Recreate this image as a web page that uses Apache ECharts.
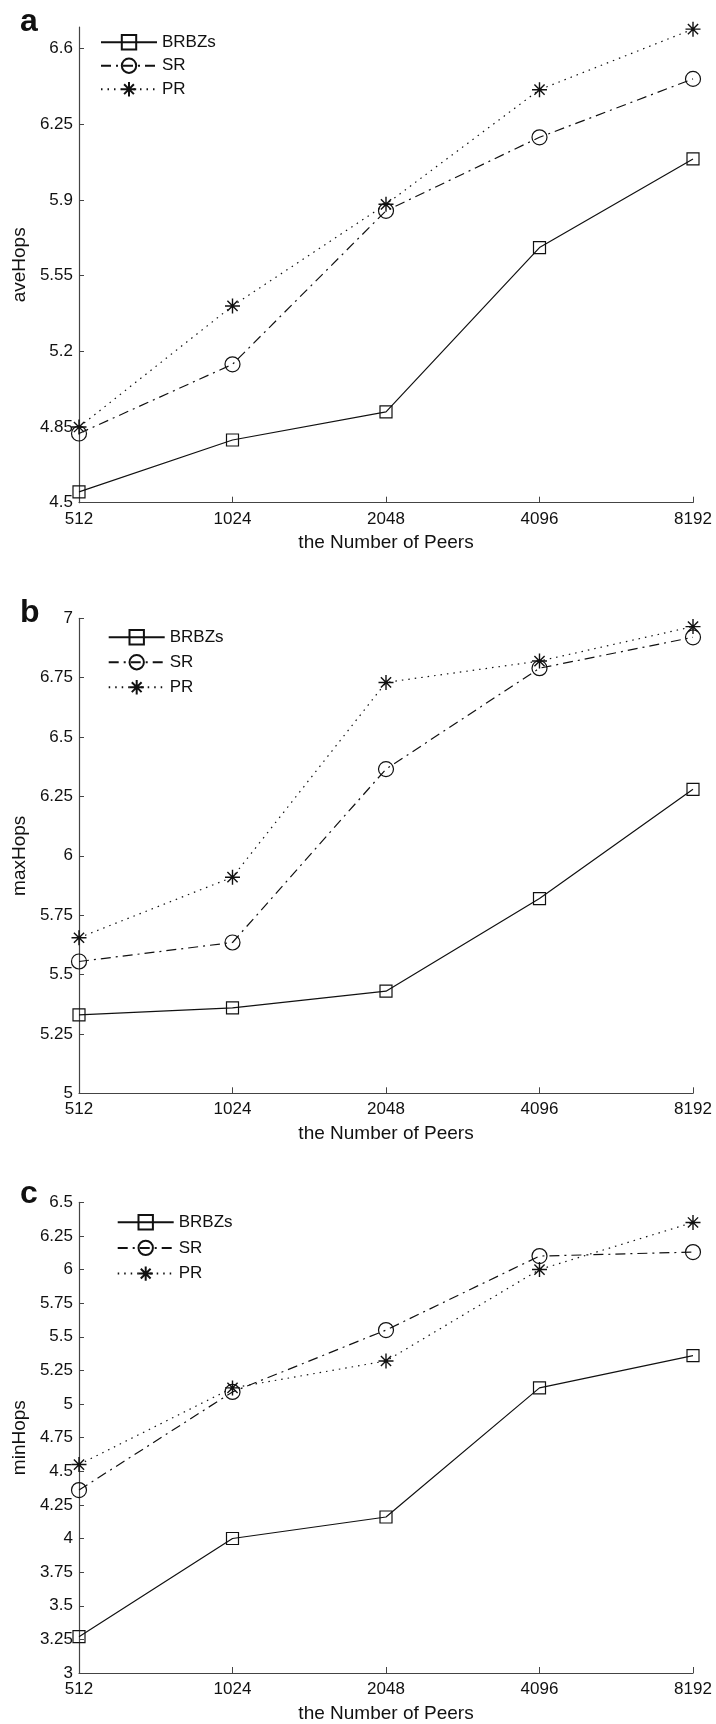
<!DOCTYPE html>
<html>
<head>
<meta charset="utf-8">
<script src="https://cdn.jsdelivr.net/npm/echarts@6/dist/echarts.min.js"></script>
<style>
  html, body { margin: 0; padding: 0; background: #fff; }
  #chart { width: 716px; height: 1724px; }
</style>
</head>
<body>
<div id="chart"></div>
<script>
// Network size on the x axis (shared by all three panels)
const peers = ['512', '1024', '2048', '4096', '8192'];
const seriesNames = ['BRBZs', 'SR', 'PR'];

// (a) average hops
const aveBRBZs = [4.55, 4.79, 4.92, 5.68, 6.09];
const aveSR    = [4.82, 5.14, 5.85, 6.19, 6.46];
const avePR    = [4.85, 5.41, 5.88, 6.41, 6.69];
const aveTicks = [4.5, 4.85, 5.2, 5.55, 5.9, 6.25, 6.6];

// (b) maximum hops
const maxBRBZs = [5.33, 5.36, 5.43, 5.82, 6.28];
const maxSR    = [5.555, 5.635, 6.365, 6.79, 6.92];
const maxPR    = [5.655, 5.91, 6.73, 6.82, 6.965];
const maxTicks = [5, 5.25, 5.5, 5.75, 6, 6.25, 6.5, 6.75, 7];

// (c) minimum hops
const minBRBZs = [3.27, 4.0, 4.16, 5.12, 5.36];
const minSR    = [4.36, 5.09, 5.55, 6.10, 6.13];
const minPR    = [4.55, 5.12, 5.32, 6.00, 6.35];
const minTicks = [3, 3.25, 3.5, 3.75, 4, 4.25, 4.5, 4.75, 5, 5.25, 5.5, 5.75, 6, 6.25, 6.5];

const FONT = 'Liberation Sans';
const INK = '#111';
const AXIS = '#444';
const STAR = 'path://M5 0L5 10M0 5L10 5M1.6 1.6L8.4 8.4M1.6 8.4L8.4 1.6';

const panels = [
  { letter: 'a', name: 'aveHops', data: [aveBRBZs, aveSR, avePR], ticks: aveTicks, min: 4.5, max: 6.7,
    top: 27, height: 475.7, legendLeft: 100, legendTop: 33.7, legendGap: 6.5, letterY: 6 },
  { letter: 'b', name: 'maxHops', data: [maxBRBZs, maxSR, maxPR], ticks: maxTicks, min: 5, max: 7,
    top: 618.3, height: 475, legendLeft: 107.7, legendTop: 628.7, legendGap: 8, letterY: 597 },
  { letter: 'c', name: 'minHops', data: [minBRBZs, minSR, minPR], ticks: minTicks, min: 3, max: 6.5,
    top: 1202.3, height: 474.4, legendLeft: 116.7, legendTop: 1213.7, legendGap: 8.7, letterY: 1178 }
];

const styles = [
  { symbol: 'rect',   symbolSize: 12, line: { type: 'solid', width: 1.2 } },
  { symbol: 'circle', symbolSize: 15, line: { type: [10, 5, 2, 5], width: 1.2 } },
  { symbol: STAR,     symbolSize: 15, line: { type: [1.5, 5], width: 1.2 } }
];

const grid = [], xAxis = [], yAxis = [], series = [], legend = [], graphic = [];

panels.forEach((p, i) => {
  grid.push({ left: 79, right: 23, top: p.top, height: p.height, containLabel: false });

  xAxis.push({
    type: 'category', gridIndex: i, data: peers, boundaryGap: false,
    name: 'the Number of Peers', nameLocation: 'middle', nameGap: 31,
    nameTextStyle: { fontFamily: FONT, fontSize: 19, color: INK },
    axisLine: { lineStyle: { color: AXIS, width: 1.2 } },
    axisTick: { inside: true, length: 6, lineStyle: { color: AXIS } },
    axisLabel: { fontFamily: FONT, fontSize: 17, color: INK, margin: 8 },
    splitLine: { show: false }
  });

  yAxis.push({
    type: 'value', gridIndex: i, min: p.min, max: p.max,
    name: p.name, nameLocation: 'middle', nameRotate: 90, nameGap: 48,
    nameTextStyle: { fontFamily: FONT, fontSize: 19, color: INK },
    axisLine: { show: true, lineStyle: { color: AXIS, width: 1.2 } },
    axisTick: { show: true, inside: true, length: 5, customValues: p.ticks, lineStyle: { color: AXIS } },
    axisLabel: { fontFamily: FONT, fontSize: 17, color: INK, margin: 6, customValues: p.ticks,
                 formatter: v => String(+v.toFixed(2)) },
    splitLine: { show: false }
  });

  seriesNames.forEach((n, k) => {
    const s = styles[k];
    series.push({
      name: n, type: 'line', xAxisIndex: i, yAxisIndex: i,
      data: p.data[k],
      symbol: s.symbol, symbolSize: s.symbolSize, showSymbol: true,
      lineStyle: { color: INK, width: s.line.width, type: s.line.type },
      itemStyle: { color: 'rgba(0,0,0,0)', borderColor: INK, borderWidth: k === 2 ? 1.4 : 1.2 },
      emphasis: { disabled: true },
      silent: true, z: 2 + k
    });
  });

  legend.push({
    data: seriesNames, orient: 'vertical', left: p.legendLeft, top: p.legendTop,
    itemWidth: 56, itemHeight: 18, itemGap: p.legendGap, padding: 0,
    selectedMode: false,
    textStyle: { fontFamily: FONT, fontSize: 17, color: INK }
  });

  graphic.push({
    type: 'text', left: 20, top: p.letterY,
    style: { text: p.letter, font: 'bold 32px "Liberation Sans"', fill: '#111' }
  });
});

const chart = echarts.init(document.getElementById('chart'), null, { renderer: 'canvas' });
chart.setOption({
  animation: false,
  backgroundColor: '#fff',
  grid, xAxis, yAxis, series, legend, graphic
});
</script>
</body>
</html>
